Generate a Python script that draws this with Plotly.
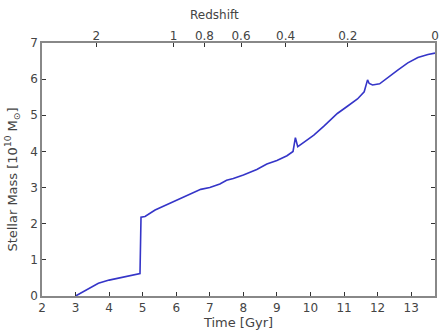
import plotly.graph_objects as go

# Data
time_gyr = [3.0, 3.3, 3.68, 4.0, 4.37, 4.87, 4.92, 4.95, 5.07, 5.37, 5.7, 6.06, 6.4, 6.73, 7.0, 7.3, 7.5, 7.7, 8.0, 8.4, 8.7, 9.0, 9.3, 9.48, 9.55, 9.62, 9.8, 10.1, 10.4, 10.8, 11.1, 11.4, 11.6, 11.7, 11.75, 11.85, 12.06, 12.3, 12.6, 12.9, 13.2, 13.5, 13.71]
stellar_mass = [0.0, 0.15, 0.35, 0.44, 0.51, 0.61, 0.62, 2.18, 2.2, 2.38, 2.52, 2.66, 2.8, 2.95, 3.0, 3.1, 3.2, 3.25, 3.35, 3.5, 3.65, 3.75, 3.88, 4.0, 4.38, 4.13, 4.25, 4.45, 4.7, 5.05, 5.25, 5.45, 5.65, 5.98, 5.88, 5.84, 5.87, 6.05, 6.25, 6.45, 6.6, 6.68, 6.72]

time_ticks = [2, 3, 4, 5, 6, 7, 8, 9, 10, 11, 12, 13]
mass_ticks = [0, 1, 2, 3, 4, 5, 6, 7]
redshift_labels = ["2", "1", "0.8", "0.6", "0.4", "0.2", "0"]
redshift_time_pos = [3.62, 5.92, 6.84, 7.93, 9.26, 11.11, 13.71]

x_range = [2, 13.71]
y_range = [0, 7]

fig = go.Figure()
fig.add_trace(go.Scatter(x=time_gyr, y=stellar_mass, mode="lines",
                         line=dict(color="#3535c8", width=1.6), showlegend=False))
# invisible trace to activate the top axis
fig.add_trace(go.Scatter(x=[x_range[0]], y=[0], xaxis="x2", mode="markers",
                         marker=dict(opacity=0), showlegend=False, hoverinfo="skip"))

font_col = "#444444"
axis_col = "#888888"
fig.update_layout(
    width=442, height=331,
    margin=dict(l=42, r=3, t=43, b=35),
    paper_bgcolor="white", plot_bgcolor="white",
    font=dict(family="DejaVu Sans", size=12, color=font_col),
    xaxis=dict(range=x_range, tickvals=time_ticks, showgrid=False, zeroline=False,
               showline=True, linecolor=axis_col, linewidth=1.5, mirror=True,
               ticks="inside", ticklen=4, tickcolor="#333333",
               title=dict(text="Time [Gyr]", standoff=2, font=dict(size=13))),
    xaxis2=dict(range=x_range, overlaying="x", side="top", tickvals=redshift_time_pos,
                ticktext=redshift_labels, showgrid=False, zeroline=False,
                showline=False, ticks="inside", ticklen=4, tickcolor="#333333"),
    yaxis=dict(range=y_range, tickvals=mass_ticks, showgrid=False, zeroline=False,
               showline=True, linecolor=axis_col, linewidth=1.5, mirror="ticks",
               ticks="inside", ticklen=4, tickcolor="#333333"),
    annotations=[
        dict(text="Redshift", xref="paper", yref="paper", x=0.438, y=1.0,
             yshift=28, xanchor="center", yanchor="middle", showarrow=False,
             font=dict(size=12, color=font_col)),
        dict(text="Stellar Mass [10<sup>10</sup> M<sub>⊙</sub>]", xref="paper", yref="paper",
             x=0.0, xshift=-30, y=0.46, textangle=-90, xanchor="center", yanchor="middle",
             showarrow=False, font=dict(size=13, color=font_col)),
    ],
)

fig.write_html("out.html")
